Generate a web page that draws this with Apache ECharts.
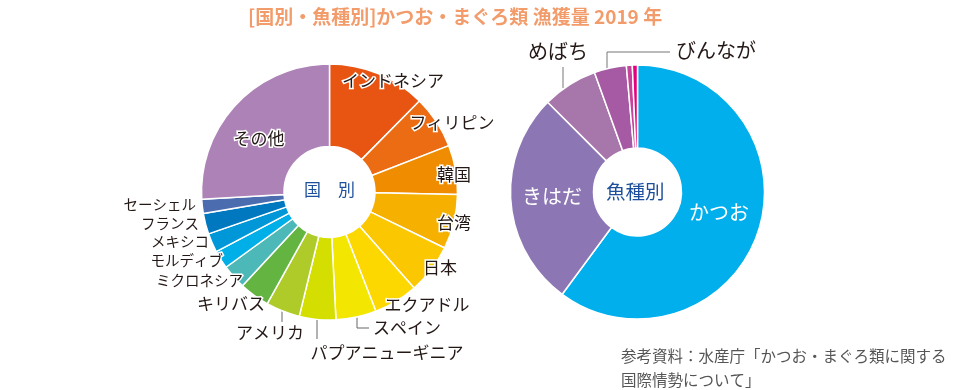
<!DOCTYPE html>
<html><head><meta charset="utf-8">
<script src="https://cdn.jsdelivr.net/npm/echarts@6/dist/echarts.min.js"></script>
<style>html,body{margin:0;padding:0;background:#fff}#c{width:961px;height:390px}</style>
</head><body><div id="c"></div>
<script>
// 国別 (share %)
const countryNames = ['インドネシア','フィリピン','韓国','台湾','日本','エクアドル','スペイン','パプアニューギニア','アメリカ','キリバス','ミクロネシア','モルディブ','メキシコ','フランス','セーシェル','その他'];
const countryValues = [12.4, 6.7, 6.2, 6.9, 6.3, 5.6, 5.1, 4.6, 4.3, 3.8, 3.1, 2.3, 2.4, 2.6, 1.8, 25.9];
// 魚種別 (share %)
const speciesNames = ['かつお','きはだ','めばち','びんなが','くろまぐろ','みなみまぐろ'];
const speciesValues = [60.1, 27.4, 7.0, 4.1, 0.75, 0.65];
const speciesShown = ['かつお','きはだ','めばち','びんなが'];

const countryColors = ['#e85513','#ec6c13','#f08c00','#f6b100','#fbc700','#fdd800','#f3e600','#d4de00','#aecb2a','#63b440','#4db8b8','#00aee8','#0097d8','#0078c0','#4c6cb0','#ad82b6'];
const speciesColors = ['#00afec','#8c76b4','#a776aa','#a65aa3','#c5449b','#e4007f'];

const FONT = '"Noto Sans CJK JP", "Noto Sans", sans-serif';
const INK = '#231815';

// label placement (layout only)
const leftLayout = {
  'インドネシア': {x:393, y:81, a:'center'},
  'フィリピン': {x:452, y:123, a:'center'},
  '韓国': {x:454, y:175, a:'center'},
  '台湾': {x:454, y:223, a:'center'},
  '日本': {x:440, y:268, a:'center'},
  'エクアドル': {x:427, y:305, a:'center'},
  'スペイン': {x:407, y:328, a:'center', line:[[357,312],[357,328],[369,328]]},
  'パプアニューギニア': {x:387, y:353, a:'center', line:[[317,316],[317,339]]},
  'アメリカ': {x:270, y:333, a:'center', line:[[282,305],[282,322]]},
  'キリバス': {x:231, y:304, a:'center'},
  'ミクロネシア': {x:243, y:280, a:'right', small:true},
  'モルディブ': {x:223, y:260, a:'right', small:true},
  'メキシコ': {x:209, y:241, a:'right', small:true},
  'フランス': {x:199, y:223, a:'right', small:true},
  'セーシェル': {x:196, y:204, a:'right', small:true},
  'その他': {x:259, y:139, a:'center'}
};
const rightLayout = {
  'かつお': {x:719, y:212, a:'center', white:true},
  'きはだ': {x:552, y:196, a:'center', white:true},
  'めばち': {x:558, y:51, a:'center', line:[[563,88],[563,67]]},
  'びんなが': {x:716, y:50, a:'center', line:[[607,71],[607,52],[670,52]]}
};

const leftData = countryNames.map((n,i)=>{
  const L = leftLayout[n];
  return {
    name:n, value:countryValues[i],
    itemStyle:{color:countryColors[i]},
    label:{show:true, fontSize: L.small?14.5:17},
    labelLine:{show: !!L.line}
  };
});
const rightData = speciesNames.map((n,i)=>{
  const L = rightLayout[n];
  const shown = speciesShown.indexOf(n) >= 0;
  return {
    name:n, value:speciesValues[i],
    itemStyle:{color:speciesColors[i]},
    label:{show:shown, color: L && L.white ? '#fff' : INK, textBorderWidth:0},
    labelLine:{show: !!(L && L.line)}
  };
});

function layoutFn(map){
  return function(p){
    const name = p.seriesIndex === 0 ? countryNames[p.dataIndex] : speciesNames[p.dataIndex];
    const L = map[name];
    if(!L) return {};
    const r = {x:L.x, y:L.y, align:L.a, verticalAlign:'middle'};
    if(L.line) r.labelLinePoints = L.line;
    return r;
  };
}

const chart = echarts.init(document.getElementById('c'), null, {renderer:'canvas'});
chart.setOption({
  animation:false,
  backgroundColor:'#fff',
  title:{
    text:'[国別・魚種別]かつお・まぐろ類 漁獲量 2019 年',
    left:243, top:2, itemGap:0,
    textStyle:{color:'#f39c6b', fontSize:19, fontWeight:'bold', fontFamily:FONT}
  },
  graphic:[
    {type:'text', left:304, top:181, style:{text:'国　別', fill:'#1d4f9c', fontSize:17, fontFamily:FONT}},
    {type:'text', left:606, top:182, style:{text:'魚種別', fill:'#1d4f9c', fontSize:19.5, fontFamily:FONT}},
    {type:'text', left:621, top:344, style:{text:'参考資料：水産庁「かつお・まぐろ類に関する\n国際情勢について」', fill:'#555', fontSize:15.5, lineHeight:24, fontFamily:FONT}}
  ],
  series:[
    {
      type:'pie', center:[329.5,192], radius:[45.5,128], startAngle:90, clockwise:true,
      avoidLabelOverlap:false, silent:true,
      itemStyle:{borderColor:'#fff', borderWidth:1.5},
      label:{position:'outside', color:INK, fontFamily:FONT, fontSize:17, textBorderColor:'#fff', textBorderWidth:3},
      labelLine:{lineStyle:{color:'#666', width:1}, smooth:false},
      labelLayout: layoutFn(leftLayout),
      data:leftData
    },
    {
      type:'pie', center:[637.5,192], radius:[44,127], startAngle:90, clockwise:true,
      avoidLabelOverlap:false, silent:true,
      itemStyle:{borderColor:'#fff', borderWidth:1.5},
      label:{position:'outside', color:INK, fontFamily:FONT, fontSize:20},
      labelLine:{lineStyle:{color:'#777', width:1}, smooth:false},
      labelLayout: layoutFn(rightLayout),
      data:rightData
    }
  ]
});
</script></body></html>
